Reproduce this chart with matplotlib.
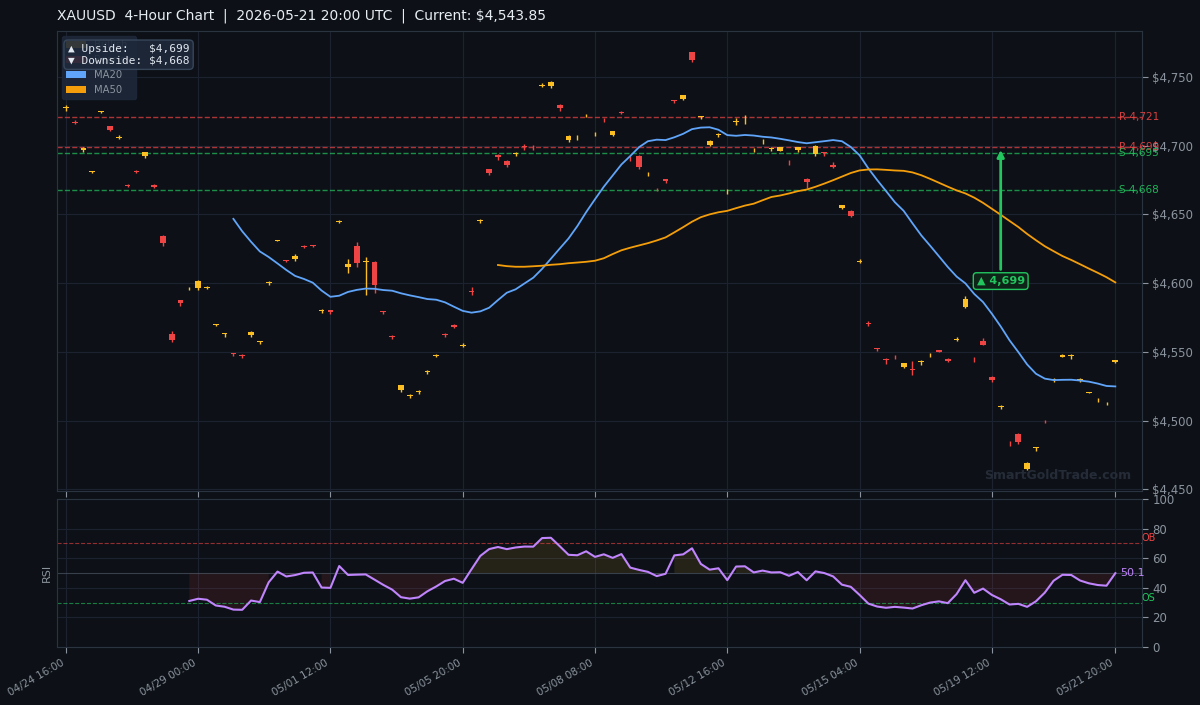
import matplotlib
matplotlib.use("Agg")
import matplotlib.pyplot as plt
from matplotlib.patches import Patch
import numpy as np
import pandas as pd

# 4-hour XAUUSD candles
opens = [4727.6, 4717.5, 4696.8, 4681.0, 4724.6, 4714.4, 4706.0, 4671.2, 4681.5, 4692.3,
         4671.5, 4634.4, 4563.2, 4587.5, 4596.5, 4596.7, 4596.7, 4569.5, 4562.8, 4548.9,
         4547.8, 4562.0, 4557.0, 4600.0, 4631.0, 4616.6, 4617.7, 4627.2, 4627.9, 4579.5,
         4580.3, 4644.3, 4611.4, 4627.2, 4615.3, 4615.6, 4579.6, 4561.5, 4522.5, 4518.0,
         4521.0, 4535.5, 4547.3, 4562.8, 4569.8, 4554.5, 4594.5, 4645.2, 4683.0, 4693.5,
         4689.0, 4694.0, 4699.6, 4699.3, 4743.8, 4743.5, 4729.7, 4704.2, 4705.5, 4721.4,
         4708.5, 4719.0, 4707.8, 4724.6, 4691.4, 4692.6, 4679.2, 4668.6, 4675.7, 4733.0,
         4734.0, 4768.0, 4721.0, 4700.6, 4707.9, 4667.6, 4717.5, 4718.5, 4697.3, 4704.0,
         4697.9, 4696.5, 4688.5, 4697.0, 4676.0, 4694.3, 4695.2, 4686.3, 4655.0, 4652.8,
         4615.5, 4570.8, 4552.5, 4544.5, 4546.6, 4539.2, 4537.6, 4542.6, 4547.6, 4551.0,
         4544.5, 4558.6, 4582.8, 4545.8, 4558.1, 4532.0, 4509.9, 4483.8, 4490.5, 4464.4,
         4480.0, 4500.0, 4529.5, 4546.5, 4547.0, 4529.6, 4520.3, 4514.7, 4512.6, 4542.5]
highs = [4730.0, 4719.0, 4698.8, 4681.8, 4725.5, 4714.6, 4707.5, 4672.0, 4682.5, 4695.5,
         4672.0, 4634.8, 4565.4, 4588.0, 4597.5, 4602.5, 4597.6, 4570.3, 4563.7, 4549.2,
         4548.2, 4565.0, 4557.8, 4601.7, 4631.6, 4617.0, 4621.0, 4628.0, 4628.1, 4581.0,
         4580.5, 4645.8, 4617.8, 4630.1, 4619.3, 4616.3, 4579.8, 4562.0, 4526.2, 4519.0,
         4522.5, 4536.5, 4548.2, 4564.0, 4570.0, 4556.5, 4597.0, 4646.6, 4683.4, 4694.3,
         4689.3, 4695.5, 4701.3, 4700.8, 4745.7, 4747.0, 4730.4, 4707.8, 4707.6, 4723.0,
         4710.0, 4720.2, 4711.0, 4725.3, 4692.6, 4693.0, 4681.0, 4669.3, 4676.0, 4733.2,
         4737.0, 4768.3, 4721.7, 4704.5, 4709.3, 4668.3, 4720.2, 4722.4, 4698.6, 4704.6,
         4699.0, 4699.2, 4689.7, 4699.2, 4676.2, 4700.2, 4695.4, 4688.0, 4657.0, 4653.0,
         4617.6, 4572.5, 4552.7, 4545.3, 4547.5, 4542.1, 4543.6, 4544.3, 4549.2, 4551.6,
         4545.8, 4561.0, 4590.3, 4546.0, 4560.3, 4532.2, 4511.0, 4485.0, 4490.8, 4469.7,
         4480.6, 4500.2, 4530.7, 4548.2, 4548.7, 4530.8, 4521.1, 4516.5, 4513.2, 4544.3]
lows = [4725.5, 4715.5, 4695.5, 4680.0, 4723.5, 4710.8, 4705.0, 4670.0, 4680.0, 4691.2,
        4669.0, 4627.0, 4557.4, 4583.1, 4595.3, 4595.3, 4595.5, 4568.5, 4561.0, 4547.2,
        4545.8, 4561.0, 4555.8, 4598.5, 4630.5, 4615.2, 4616.3, 4625.3, 4626.5, 4578.0,
        4577.8, 4643.6, 4607.2, 4611.4, 4591.3, 4593.0, 4577.3, 4559.6, 4520.6, 4516.7,
        4519.5, 4534.0, 4546.3, 4561.0, 4567.0, 4553.5, 4591.5, 4644.0, 4678.8, 4689.7,
        4684.8, 4692.4, 4697.0, 4697.0, 4743.0, 4742.0, 4725.3, 4702.8, 4704.2, 4720.6,
        4707.3, 4717.3, 4707.2, 4722.9, 4689.0, 4683.4, 4678.0, 4667.2, 4673.0, 4731.0,
        4733.5, 4761.2, 4719.7, 4699.8, 4706.4, 4665.0, 4715.0, 4715.8, 4695.8, 4701.6,
        4696.5, 4696.2, 4686.3, 4695.8, 4668.9, 4692.4, 4692.8, 4683.6, 4654.3, 4647.8,
        4615.0, 4568.6, 4550.4, 4541.4, 4545.1, 4538.5, 4533.5, 4540.7, 4546.0, 4549.6,
        4542.4, 4558.2, 4581.7, 4542.4, 4554.7, 4528.3, 4508.3, 4481.4, 4482.6, 4463.9,
        4477.8, 4498.4, 4528.4, 4546.2, 4545.1, 4528.0, 4519.8, 4513.7, 4511.0, 4542.2]
closes = [4727.9, 4716.8, 4698.5, 4681.5, 4725.2, 4711.5, 4706.5, 4670.8, 4681.2, 4695.3,
          4669.7, 4629.0, 4558.9, 4585.2, 4596.8, 4601.7, 4597.4, 4570.1, 4563.5, 4548.3,
          4547.2, 4564.2, 4557.6, 4600.6, 4631.4, 4616.0, 4620.1, 4626.6, 4627.4, 4580.2,
          4579.0, 4644.9, 4614.0, 4615.0, 4615.8, 4598.4, 4579.2, 4560.5, 4525.7, 4518.5,
          4521.5, 4536.0, 4548.0, 4562.2, 4568.2, 4555.3, 4593.8, 4645.7, 4680.1, 4691.7,
          4686.0, 4694.5, 4699.0, 4698.8, 4744.4, 4746.1, 4727.8, 4707.1, 4706.0, 4721.9,
          4708.9, 4718.5, 4710.5, 4723.8, 4691.0, 4684.8, 4679.6, 4668.2, 4674.0, 4732.6,
          4736.7, 4762.4, 4721.4, 4703.5, 4708.3, 4668.0, 4718.0, 4719.0, 4697.8, 4704.4,
          4698.3, 4699.0, 4688.0, 4699.0, 4673.3, 4700.0, 4694.8, 4684.6, 4656.8, 4649.0,
          4616.0, 4570.3, 4552.0, 4544.0, 4546.1, 4541.9, 4536.7, 4543.0, 4548.0, 4550.2,
          4543.1, 4559.2, 4588.5, 4545.2, 4555.2, 4529.8, 4510.4, 4483.3, 4484.7, 4468.8,
          4480.4, 4499.6, 4530.5, 4548.0, 4547.4, 4530.0, 4520.7, 4515.1, 4512.9, 4543.85]

tick_pos = [0, 15, 30, 45, 60, 75, 90, 105, 119]
tick_labels = ["04/24 16:00", "04/29 00:00", "05/01 12:00", "05/05 20:00", "05/08 08:00",
               "05/12 16:00", "05/15 04:00", "05/19 12:00", "05/21 20:00"]

resistance = [4721, 4699]
support = [4695, 4668]
upside = 4699
downside = 4668
arrow_bar = 106
rsi_last = 50.1  # value printed at the end of the RSI line
title = "XAUUSD  4-Hour Chart  |  2026-05-21 20:00 UTC  |  Current: $4,543.85"

BG = "#0d1117"
GRID = "#1c2230"
SPINE = "#2a3340"
TXT = "#8b949e"
BULL = "#fbbf24"
BEAR = "#ef4444"
GREEN = "#22c55e"

o = np.array(opens); h = np.array(highs); l = np.array(lows); c = np.array(closes)
x = np.arange(len(c))
s = pd.Series(c)
ma20 = s.rolling(20).mean()
ma50 = s.rolling(50).mean()
# Wilder RSI(14)
d = s.diff()
gain = d.clip(lower=0).ewm(com=13, min_periods=14).mean()
loss = (-d.clip(upper=0)).ewm(com=13, min_periods=14).mean()
rsi = 100 - 100 / (1 + gain / loss)

fig = plt.figure(figsize=(12, 7.05), dpi=100, facecolor=BG)
ax = fig.add_axes([0.0475, 0.3035, 0.904, 0.6525])
ax2 = fig.add_axes([0.0475, 0.0823, 0.904, 0.2099], sharex=ax)

for a in (ax, ax2):
    a.set_facecolor(BG)
    a.grid(True, color=GRID, lw=0.8)
    a.set_axisbelow(True)
    for sp in a.spines.values():
        sp.set_color(SPINE)
    a.yaxis.tick_right()
    a.tick_params(colors=TXT, labelsize=8.5, length=4)

# candles
up = c >= o
cols = np.where(up, BULL, BEAR)
body_lo = np.minimum(o, c)
body_h = np.maximum(np.abs(c - o), 0.25)
ax.vlines(x, l, h, colors=cols, lw=1.0, zorder=2)
ax.bar(x, body_h, bottom=body_lo, width=0.65, color=cols, lw=0, zorder=3)

ax.plot(x, ma20, color="#60a5fa", lw=1.3, zorder=4)
ax.plot(x, ma50, color="#f59e0b", lw=1.3, zorder=4)

for r in resistance:
    ax.axhline(r, color=BEAR, ls="--", lw=1.0, alpha=0.7, zorder=1)
    ax.text(119.4, r, f"R {r:,.0f}", color=BEAR, fontsize=7.5, va="center", ha="left", alpha=0.9)
for sp_ in support:
    ax.axhline(sp_, color=GREEN, ls="--", lw=1.0, alpha=0.7, zorder=1)
    ax.text(119.4, sp_, f"S {sp_:,.0f}", color=GREEN, fontsize=7.5, va="center", ha="left", alpha=0.9)

ax.annotate(f"\u25b2 {upside:,.0f}", xy=(arrow_bar, upside), xytext=(arrow_bar, 4601.5),
            ha="center", va="center", fontsize=8, fontweight="bold", color=GREEN,
            bbox=dict(boxstyle="round,pad=0.3", fc="#0f2418", ec=GREEN, lw=1.0),
            arrowprops=dict(arrowstyle="-|>", color=GREEN, lw=2, mutation_scale=10), zorder=6)

hl = [Patch(facecolor=BULL, label="Bullish"), Patch(facecolor=BEAR, label="Bearish"),
      Patch(facecolor="#60a5fa", label="MA20"), Patch(facecolor="#f59e0b", label="MA50")]
leg = ax.legend(handles=hl, loc="upper left", fontsize=7.2, facecolor="#1e293b",
                edgecolor="#1e293b", labelcolor=TXT, framealpha=0.85)
leg.set_zorder(7)

ax.text(0.01, 0.972, f"\u25b2 Upside:   ${upside:,.0f}\n\u25bc Downside: ${downside:,.0f}",
        transform=ax.transAxes, va="top", ha="left", fontsize=8, family="DejaVu Sans Mono",
        color="#e2e8f0", zorder=8,
        bbox=dict(boxstyle="round,pad=0.35", fc="#1e293b", ec="#3b4a5f", alpha=0.9))

ax.text(0.99, 0.02, "SmartGoldTrade.com", transform=ax.transAxes, ha="right", va="bottom",
        fontsize=9, fontweight="bold", color="#252c38", zorder=1)

rng = h.max() - l.min()
ax.set_ylim(l.min() - 0.05 * rng, h.max() + 0.05 * rng)
ax.set_xlim(-1, 122)
ax.yaxis.set_major_formatter(matplotlib.ticker.FuncFormatter(lambda v, p: f"${v:,.0f}"))
ax.tick_params(axis="x", labelbottom=False)

# RSI
ax2.plot(x, rsi, color="#c084fc", lw=1.5, zorder=4)
ax2.fill_between(x, rsi, 50, where=rsi >= 50, color=BULL, alpha=0.1, lw=0)
ax2.fill_between(x, rsi, 50, where=rsi < 50, color=BEAR, alpha=0.1, lw=0)
ax2.axhline(70, color=BEAR, ls="--", lw=0.8, alpha=0.6)
ax2.axhline(30, color=GREEN, ls="--", lw=0.8, alpha=0.6)
ax2.axhline(50, color="#4b5563", lw=0.8, alpha=0.7)
ax2.text(1.0, 70, "OB", transform=ax2.get_yaxis_transform(), color=BEAR, fontsize=7, va="bottom", ha="left")
ax2.text(1.0, 30, "OS", transform=ax2.get_yaxis_transform(), color=GREEN, fontsize=7, va="bottom", ha="left")
ax2.text(119.6, rsi_last, f"{rsi_last:.1f}", color="#c084fc", fontsize=8, va="center", ha="left")
ax2.set_ylim(0, 100)
ax2.set_yticks([0, 20, 40, 60, 80, 100])
ax2.set_ylabel("RSI", color=TXT, fontsize=8)
ax2.set_xticks(tick_pos)
ax2.set_xticklabels(tick_labels, rotation=30, ha="right", fontsize=7.5)

fig.text(0.0475, 1 - 16 / 705, title, color="#e6edf3", fontsize=10, va="center", ha="left")

fig.savefig("out.png", dpi=100, facecolor=BG)
